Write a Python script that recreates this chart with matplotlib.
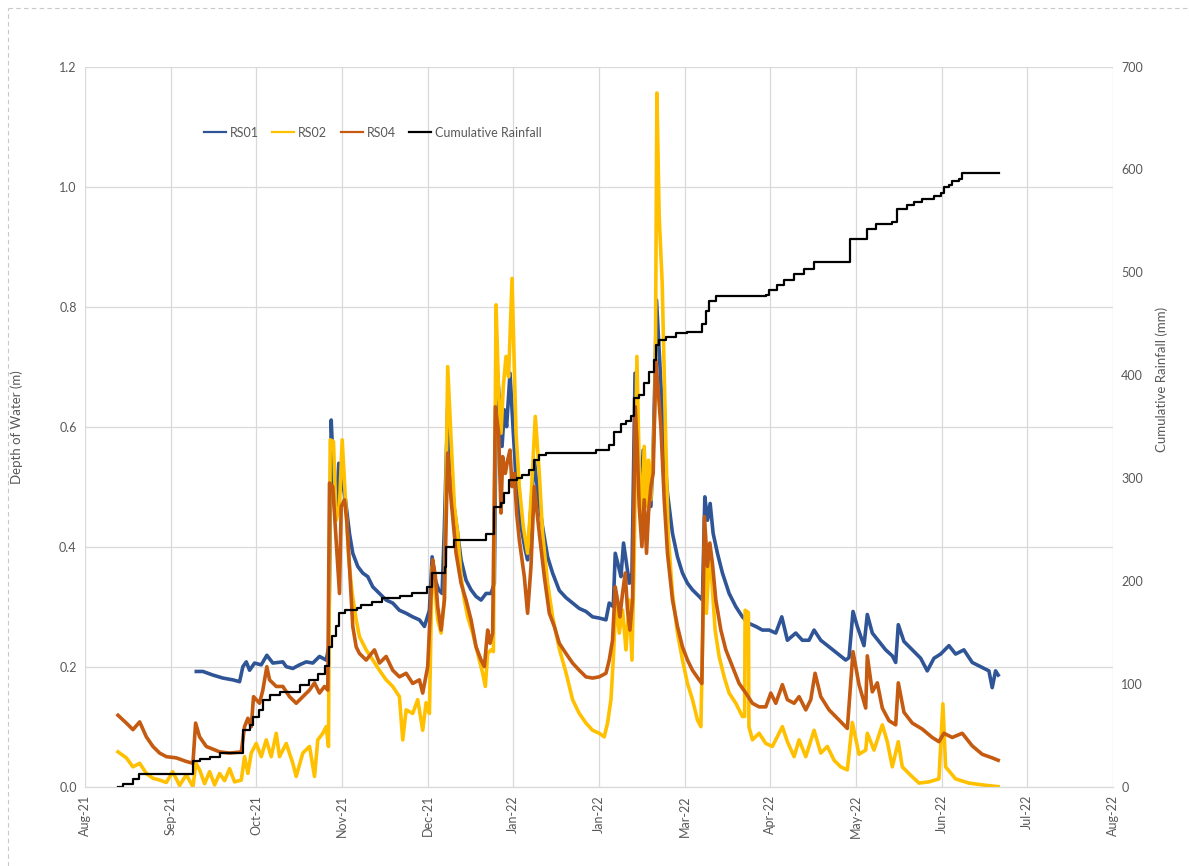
import matplotlib

matplotlib.use("Agg")
import matplotlib.pyplot as plt
import numpy as np
import pandas as pd
from matplotlib.lines import Line2D

plt.rcParams["font.family"] = ["Lato", "DejaVu Sans"]

# x values are days counted from 1 Aug 2021
START = pd.Timestamp("2021-08-01")

rs01_day = [40.13, 42.48, 46.03, 49.59, 53.15, 55.53, 56.71, 57.92, 59.09, 60.87,
            63.25, 65.24, 67.38, 70.94, 72.15, 74.49, 76.88, 79.26, 81.61, 83.99,
            86.38, 87.30, 88.16, 88.97, 89.93, 90.86, 92.07, 93.24, 94.66, 95.84,
            97.62, 99.40, 101.18, 102.96, 105.34, 107.72, 110.07, 112.45, 114.84, 117.18,
            119.57, 121.35, 123.13, 124.09, 125.26, 126.43, 127.64, 128.46, 129.64, 130.85,
            132.02, 133.20, 134.40, 136.18, 137.96, 139.74, 141.52, 143.30, 145.08, 146.25,
            147.07, 148.03, 148.99, 149.81, 150.62, 151.83, 153.01, 154.18, 155.75, 157.28,
            158.09, 159.30, 160.48, 162.01, 163.43, 165.21, 166.99, 169.37, 171.76, 174.11,
            176.49, 178.87, 181.22, 183.60, 185.99, 187.16, 188.59, 189.30, 190.47, 191.33,
            192.25, 193.12, 194.29, 195.25, 196.35, 197.24, 198.44, 199.26, 200.22, 201.14,
            201.99, 202.81, 203.52, 203.99, 205.55, 206.73, 207.90, 209.68, 211.46, 213.24,
            215.02, 216.80, 219.18, 220.35, 221.20, 222.13, 223.09, 224.16, 225.69, 227.47,
            229.85, 232.23, 234.58, 236.96, 239.34, 241.69, 244.08, 246.46, 248.60, 250.59,
            253.57, 255.92, 258.30, 260.09, 262.48, 265.43, 268.38, 271.36, 272.53, 273.96,
            275.49, 277.87, 279.05, 280.83, 283.21, 285.59, 287.95, 289.16, 290.08, 292.10,
            295.06, 298.05, 300.40, 302.78, 305.16, 308.11, 310.49, 313.44, 316.41, 319.39,
            322.35, 323.52, 324.73, 325.65]
rs01_depth = [0.192, 0.192, 0.186, 0.181, 0.178, 0.175, 0.200, 0.208, 0.194, 0.206,
              0.203, 0.219, 0.206, 0.208, 0.200, 0.197, 0.203, 0.208, 0.206, 0.217,
              0.211, 0.233, 0.611, 0.522, 0.456, 0.539, 0.511, 0.478, 0.422, 0.389,
              0.367, 0.356, 0.350, 0.333, 0.322, 0.311, 0.306, 0.294, 0.289, 0.283,
              0.278, 0.267, 0.294, 0.383, 0.344, 0.328, 0.322, 0.433, 0.633, 0.522,
              0.461, 0.422, 0.378, 0.344, 0.328, 0.317, 0.311, 0.322, 0.322, 0.339,
              0.708, 0.644, 0.567, 0.628, 0.600, 0.689, 0.589, 0.500, 0.433, 0.394,
              0.378, 0.467, 0.544, 0.478, 0.433, 0.383, 0.356, 0.327, 0.315, 0.306,
              0.297, 0.292, 0.283, 0.281, 0.278, 0.306, 0.300, 0.389, 0.367, 0.350,
              0.406, 0.378, 0.339, 0.356, 0.689, 0.561, 0.489, 0.561, 0.478, 0.522,
              0.467, 0.561, 0.700, 0.811, 0.672, 0.561, 0.489, 0.422, 0.383, 0.356,
              0.339, 0.328, 0.317, 0.311, 0.483, 0.444, 0.472, 0.422, 0.389, 0.356,
              0.322, 0.300, 0.283, 0.272, 0.267, 0.261, 0.261, 0.256, 0.283, 0.244,
              0.256, 0.244, 0.244, 0.261, 0.244, 0.233, 0.222, 0.211, 0.215, 0.292,
              0.267, 0.235, 0.287, 0.256, 0.242, 0.228, 0.218, 0.207, 0.270, 0.242,
              0.228, 0.214, 0.193, 0.214, 0.221, 0.235, 0.221, 0.228, 0.207, 0.200,
              0.193, 0.165, 0.193, 0.186]

rs02_day = [12.24, 15.23, 17.57, 19.96, 22.34, 24.69, 27.07, 29.46, 31.70, 34.19,
            36.57, 38.92, 40.01, 41.30, 43.08, 44.86, 46.64, 48.42, 50.20, 51.98,
            53.75, 56.14, 57.31, 58.49, 59.69, 61.47, 63.25, 65.03, 66.81, 68.59,
            69.76, 72.15, 74.49, 75.70, 78.05, 80.44, 82.22, 83.39, 85.17, 86.38,
            87.19, 87.80, 88.97, 89.93, 91.11, 92.07, 93.24, 94.42, 95.63, 97.05,
            98.22, 100.61, 102.96, 105.34, 107.72, 110.07, 112.45, 113.63, 114.84, 117.18,
            118.96, 120.74, 121.95, 123.13, 124.09, 125.26, 126.08, 127.29, 128.46, 129.64,
            130.85, 132.02, 133.20, 134.40, 135.58, 136.75, 138.53, 140.31, 142.09, 143.05,
            143.87, 145.08, 145.90, 146.86, 147.78, 148.63, 149.45, 150.41, 151.33, 152.55,
            153.97, 155.14, 156.57, 158.09, 159.30, 160.83, 162.26, 163.43, 165.21, 166.99,
            169.37, 171.76, 174.11, 176.49, 178.87, 181.22, 183.60, 185.38, 186.56, 187.77,
            188.59, 189.55, 190.73, 191.91, 193.12, 194.29, 195.25, 196.07, 197.01, 197.83,
            198.79, 199.61, 200.43, 201.14, 201.99, 202.81, 203.52, 204.13, 204.94, 206.01,
            207.26, 208.14, 209.68, 211.46, 213.24, 215.02, 216.80, 218.58, 219.79, 221.06,
            221.77, 222.73, 223.69, 224.86, 226.29, 228.07, 229.85, 232.23, 234.58, 235.37,
            235.54, 236.72, 236.90, 238.14, 240.52, 242.91, 245.25, 248.81, 250.59, 252.98,
            254.76, 257.14, 260.09, 262.48, 264.83, 267.22, 269.58, 271.94, 273.72, 276.10,
            278.48, 279.05, 281.44, 284.39, 286.17, 287.95, 290.08, 291.51, 294.49, 297.44,
            301.00, 304.55, 305.97, 306.93, 310.49, 315.22, 319.96, 325.65]
rs02_depth = [0.058, 0.048, 0.033, 0.039, 0.022, 0.014, 0.011, 0.007, 0.025, 0.002,
              0.020, 0.000, 0.039, 0.028, 0.005, 0.025, 0.003, 0.022, 0.010, 0.030,
              0.008, 0.011, 0.050, 0.022, 0.056, 0.072, 0.050, 0.078, 0.050, 0.089,
              0.050, 0.072, 0.039, 0.017, 0.056, 0.067, 0.017, 0.078, 0.089, 0.100,
              0.067, 0.578, 0.575, 0.444, 0.467, 0.578, 0.478, 0.378, 0.322, 0.278,
              0.250, 0.228, 0.211, 0.194, 0.178, 0.167, 0.150, 0.078, 0.128, 0.122,
              0.145, 0.094, 0.140, 0.122, 0.367, 0.322, 0.278, 0.256, 0.311, 0.700,
              0.578, 0.467, 0.422, 0.350, 0.311, 0.283, 0.256, 0.222, 0.189, 0.167,
              0.222, 0.228, 0.225, 0.803, 0.656, 0.589, 0.667, 0.717, 0.683, 0.847,
              0.589, 0.500, 0.433, 0.389, 0.478, 0.617, 0.522, 0.422, 0.339, 0.283,
              0.230, 0.190, 0.145, 0.122, 0.106, 0.094, 0.089, 0.083, 0.106, 0.145,
              0.211, 0.311, 0.256, 0.294, 0.228, 0.311, 0.211, 0.389, 0.717, 0.533,
              0.444, 0.567, 0.467, 0.544, 0.478, 0.561, 0.644, 1.156, 0.950, 0.840,
              0.580, 0.420, 0.322, 0.256, 0.211, 0.172, 0.145, 0.111, 0.100, 0.400,
              0.289, 0.383, 0.344, 0.261, 0.217, 0.183, 0.156, 0.139, 0.117, 0.117,
              0.294, 0.290, 0.100, 0.078, 0.089, 0.072, 0.067, 0.100, 0.075, 0.050,
              0.078, 0.050, 0.094, 0.056, 0.067, 0.044, 0.033, 0.028, 0.107, 0.054,
              0.061, 0.089, 0.061, 0.103, 0.075, 0.033, 0.075, 0.033, 0.019, 0.006,
              0.008, 0.013, 0.138, 0.033, 0.013, 0.006, 0.003, 0.000]

rs04_day = [12.24, 15.23, 17.57, 19.96, 22.34, 24.69, 27.07, 29.46, 33.01, 36.57,
            38.92, 39.88, 41.30, 43.69, 48.42, 51.98, 56.14, 57.31, 58.49, 59.69,
            60.51, 61.47, 62.65, 63.82, 65.24, 66.21, 68.59, 70.94, 73.32, 75.70,
            78.05, 80.44, 82.22, 83.99, 85.77, 86.94, 87.55, 88.72, 89.69, 90.50,
            91.11, 91.71, 92.89, 93.70, 94.66, 95.84, 97.05, 98.22, 100.61, 103.56,
            105.34, 107.72, 110.07, 112.45, 114.84, 117.18, 119.57, 120.74, 122.52, 124.30,
            125.26, 126.08, 127.29, 128.46, 129.64, 130.85, 132.62, 134.40, 136.18, 137.96,
            139.74, 141.52, 142.69, 143.87, 144.72, 145.64, 146.61, 147.78, 148.63, 149.20,
            150.16, 150.98, 151.83, 152.55, 153.36, 154.18, 155.14, 156.92, 158.09, 159.30,
            160.48, 162.26, 164.04, 165.82, 167.60, 169.37, 171.76, 174.11, 176.49, 178.87,
            181.22, 183.60, 185.99, 187.16, 188.33, 189.30, 190.11, 190.97, 191.89, 192.85,
            193.67, 194.52, 195.45, 196.41, 197.01, 197.83, 198.79, 199.61, 200.43, 201.14,
            201.99, 202.81, 203.77, 205.55, 206.73, 207.90, 209.68, 211.46, 213.24, 215.02,
            216.80, 219.18, 220.14, 221.06, 222.13, 222.98, 223.91, 225.12, 226.90, 228.68,
            231.03, 233.41, 235.79, 238.14, 240.52, 242.91, 244.69, 246.47, 248.81, 250.59,
            252.98, 254.76, 257.14, 258.92, 260.45, 262.48, 265.43, 268.99, 271.94, 273.96,
            276.10, 278.48, 279.05, 280.83, 282.61, 284.39, 286.77, 289.16, 290.08, 292.10,
            295.06, 298.62, 302.17, 304.55, 306.33, 309.29, 312.85, 316.41, 319.96, 323.52,
            325.65]
rs04_depth = [0.119, 0.106, 0.095, 0.108, 0.083, 0.067, 0.056, 0.050, 0.048, 0.042,
              0.039, 0.106, 0.083, 0.067, 0.058, 0.056, 0.058, 0.100, 0.114, 0.100,
              0.150, 0.145, 0.139, 0.161, 0.200, 0.178, 0.167, 0.167, 0.150, 0.139,
              0.150, 0.161, 0.173, 0.156, 0.167, 0.161, 0.506, 0.500, 0.428, 0.367,
              0.322, 0.467, 0.478, 0.444, 0.367, 0.267, 0.233, 0.222, 0.211, 0.228,
              0.206, 0.217, 0.194, 0.183, 0.189, 0.172, 0.178, 0.156, 0.200, 0.378,
              0.350, 0.300, 0.261, 0.311, 0.556, 0.478, 0.389, 0.339, 0.311, 0.278,
              0.233, 0.211, 0.200, 0.261, 0.239, 0.256, 0.633, 0.589, 0.456, 0.550,
              0.522, 0.544, 0.561, 0.500, 0.522, 0.456, 0.411, 0.350, 0.289, 0.367,
              0.500, 0.422, 0.350, 0.289, 0.267, 0.239, 0.222, 0.206, 0.194, 0.183,
              0.181, 0.183, 0.189, 0.211, 0.244, 0.333, 0.311, 0.283, 0.322, 0.356,
              0.294, 0.261, 0.311, 0.633, 0.578, 0.467, 0.400, 0.478, 0.389, 0.456,
              0.500, 0.522, 0.711, 0.600, 0.478, 0.389, 0.311, 0.267, 0.233, 0.211,
              0.194, 0.178, 0.172, 0.450, 0.367, 0.406, 0.372, 0.311, 0.261, 0.228,
              0.200, 0.172, 0.156, 0.139, 0.133, 0.133, 0.156, 0.139, 0.170, 0.145,
              0.139, 0.150, 0.128, 0.145, 0.189, 0.150, 0.128, 0.111, 0.097, 0.225,
              0.170, 0.131, 0.218, 0.158, 0.173, 0.131, 0.110, 0.103, 0.173, 0.124,
              0.106, 0.096, 0.082, 0.075, 0.089, 0.082, 0.089, 0.068, 0.054, 0.048,
              0.044]

# cumulative rainfall, value reached at each step
rain_day = [12.1, 13.9, 17.5, 19.6, 38.8, 41.3, 44.9, 48.4, 56.6, 59.1,
            60.2, 62.6, 63.7, 66.2, 69.8, 76.9, 80.4, 83.3, 85.8, 87.5,
            88.6, 90.0, 91.1, 92.9, 97.2, 98.9, 102.8, 106.4, 112.5, 117.1,
            122.4, 124.2, 128.8, 129.2, 132.0, 143.4, 146.2, 148.7, 149.8, 151.6,
            154.4, 156.2, 158.7, 160.5, 162.2, 164.7, 182.5, 187.2, 188.9, 191.4,
            193.2, 195.0, 196.1, 197.8, 199.6, 201.4, 203.2, 203.9, 204.9, 207.4,
            211.0, 214.9, 220.2, 221.7, 222.7, 225.2, 243.0, 244.1, 246.9, 249.4,
            253.0, 256.5, 260.1, 272.9, 278.9, 282.1, 287.8, 289.6, 293.2, 295.7,
            298.5, 302.8, 305.3, 306.3, 308.1, 309.2, 311.7, 312.7, 325.9]
rain_mm = [0, 3, 7, 12, 25, 27, 29, 33, 55, 60,
           68, 75, 84, 89, 92, 99, 104, 110, 117, 136,
           146, 156, 169, 172, 174, 177, 180, 183, 185, 188,
           194, 208, 214, 233, 240, 246, 272, 276, 285, 298,
           300, 303, 308, 318, 322, 324, 327, 332, 345, 353,
           355, 360, 378, 381, 392, 403, 415, 429, 434, 437,
           441, 442, 450, 462, 472, 477, 478, 483, 488, 493,
           498, 503, 510, 532, 542, 547, 549, 562, 565, 568,
           571, 574, 577, 583, 585, 589, 591, 597, 597]

GREY_TEXT = "#595959"
GRID = "#d9d9d9"

fig = plt.figure(figsize=(11.89, 8.66), dpi=100)
ax = fig.add_axes([0.0715, 0.0916, 0.8645, 0.8315])
ax2 = ax.twinx()

l1, = ax.plot(rs01_day, rs01_depth, color="#2F5597", lw=2.6, label="RS01")
l2, = ax.plot(rs02_day, rs02_depth, color="#FFC000", lw=2.6, label="RS02")
l3, = ax.plot(rs04_day, rs04_depth, color="#C55A11", lw=2.6, label="RS04")
l4, = ax2.plot(rain_day, rain_mm, color="black", lw=1.6, drawstyle="steps-post",
               label="Cumulative Rainfall")

# month ticks every 30.5 days
ticks = 0.5 + 30.5 * np.arange(13)
tick_labels = [(START + pd.Timedelta(days=float(t))).strftime("%b-%y") for t in ticks]
ax.set_xlim(ticks[0], ticks[-1])
ax.set_xticks(ticks)
ax.set_xticklabels(tick_labels, rotation=90)

ax.set_ylim(0, 1.2)
ax.set_yticks(np.arange(0, 1.21, 0.2))
ax.set_yticklabels([f"{v:.1f}" for v in np.arange(0, 1.21, 0.2)])
ax2.set_ylim(0, 700)
ax2.set_yticks(np.arange(0, 701, 100))

ax.grid(True, color=GRID, lw=0.9)
ax.set_axisbelow(True)
for a in (ax, ax2):
    for side in ("top", "left", "right"):
        a.spines[side].set_visible(False)
    a.spines["bottom"].set_color(GRID)
    a.tick_params(length=0, labelsize=9, labelcolor=GREY_TEXT, pad=6)

ax.set_ylabel("Depth of Water (m)", fontsize=9.5, color=GREY_TEXT)
ax.yaxis.set_label_coords(-0.06, 0.5)
ax2.set_ylabel("Cumulative Rainfall (mm)", fontsize=9.5, color=GREY_TEXT, rotation=90)
ax2.yaxis.set_label_coords(1.041, 0.565)

leg = ax2.legend(handles=[l1, l2, l3, l4], loc="center", bbox_to_anchor=(0.28, 0.908),
                 ncol=4, frameon=False, fontsize=9, handlelength=1.75,
                 columnspacing=1.1, handletextpad=0.3)
for line in leg.get_lines():
    line.set_linewidth(1.6)
for t in leg.get_texts():
    t.set_color(GREY_TEXT)

# light dashed frame around the chart
border = dict(color="#c8c8c8", lw=0.8, ls=(0, (4, 3)))
fig.add_artist(Line2D([8 / 1189, 1.0], [1 - 8 / 866] * 2, **border))
fig.add_artist(Line2D([8 / 1189] * 2, [0.0, 1 - 8 / 866], **border))

fig.savefig("out.png", dpi=100)
